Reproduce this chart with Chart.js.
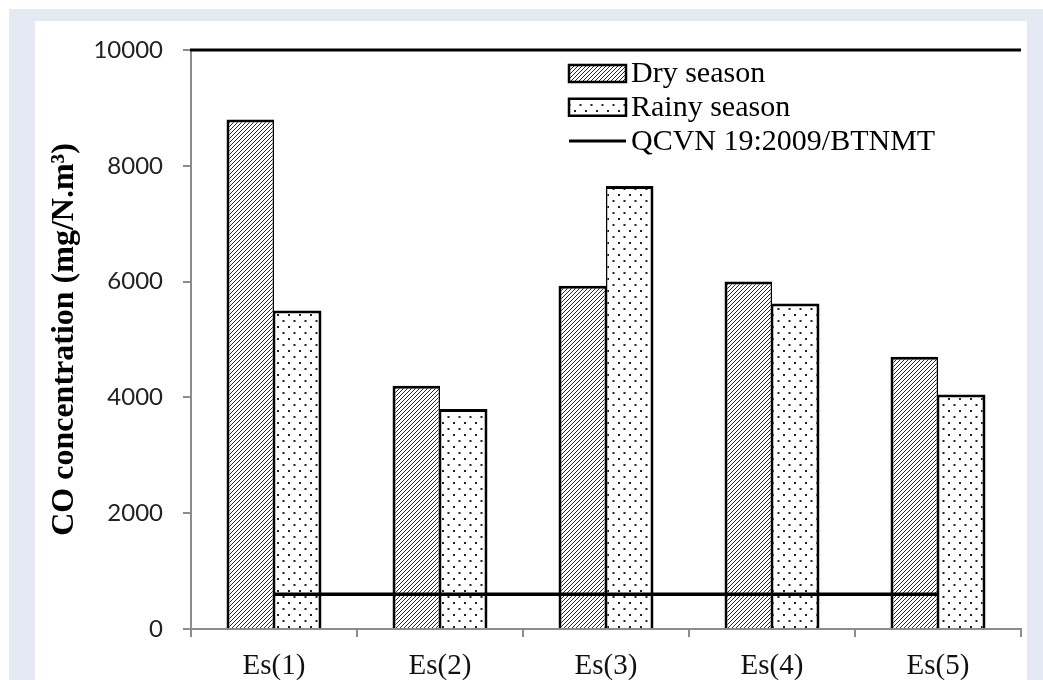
<!DOCTYPE html>
<html>
<head>
<meta charset="utf-8">
<title>CO concentration</title>
<script src="https://cdn.jsdelivr.net/npm/chart.js@4.4.1/dist/chart.umd.min.js"></script>
<style>
  html, body { margin: 0; padding: 0; background: #ffffff; }
  #frame { position: absolute; left: 9px; top: 9px; width: 1034px; height: 671px; background: #e4e9f4; }
  #panel { position: absolute; left: 35px; top: 21px; width: 992px; height: 659px; background: #ffffff; }
  #chart { position: absolute; left: 0; top: 0; }
</style>
</head>
<body>
<div id="frame"></div>
<div id="panel"></div>
<canvas id="chart" width="1043" height="680"></canvas>
<script>
// Sampling sites and measured CO concentrations (mg/N.m3)
const categories = ['Es(1)', 'Es(2)', 'Es(3)', 'Es(4)', 'Es(5)'];
const drySeason = [8800, 4200, 5930, 6000, 4700];
const rainySeason = [5500, 3800, 7650, 5620, 4050];
const qcvnLimit = [600, 600, 600, 600, 600];
const seriesNames = ['Dry season', 'Rainy season', 'QCVN 19:2009/BTNMT'];
const yTicks = [0, 2000, 4000, 6000, 8000, 10000];
const yTitle = 'CO concentration (mg/N.m\u00B3)';

// Fill patterns: diagonal hatch for the dry season, staggered dots for the rainy season
function hatchPattern(ctx) {
  const t = document.createElement('canvas');
  t.width = 4; t.height = 4;
  const c = t.getContext('2d');
  c.fillStyle = '#fff';
  c.fillRect(0, 0, 4, 4);
  c.strokeStyle = '#111';
  c.lineWidth = 0.9;
  c.beginPath();
  c.moveTo(-1, 5); c.lineTo(5, -1);
  c.moveTo(-1, 1); c.lineTo(1, -1);
  c.moveTo(3, 5); c.lineTo(5, 3);
  c.stroke();
  return ctx.createPattern(t, 'repeat');
}
function dotPattern(ctx) {
  const t = document.createElement('canvas');
  t.width = 11; t.height = 12;
  const c = t.getContext('2d');
  c.fillStyle = '#fff';
  c.fillRect(0, 0, 11, 12);
  c.fillStyle = '#222';
  c.fillRect(2, 2, 2, 2);
  c.fillRect(7.5, 8, 2, 2);
  return ctx.createPattern(t, 'repeat');
}

const canvas = document.getElementById('chart');
const ctx = canvas.getContext('2d');
const hatch = hatchPattern(ctx);
const dots = dotPattern(ctx);

// Legend drawn inside the plot area, upper middle
const seasonLegend = {
  id: 'seasonLegend',
  afterDraw(chart) {
    const c = chart.ctx, a = chart.chartArea;
    const x0 = a.left + 378, w = 57, step = 33.75, y0 = a.top + 23.5;
    c.save();
    c.font = '30px "Liberation Serif"';
    c.textBaseline = 'middle';
    c.fillStyle = '#000';
    chart.data.datasets.forEach((ds, i) => {
      const cy = y0 + i * step;
      if (ds.type === 'line') {
        c.strokeStyle = '#000';
        c.lineWidth = 3;
        c.beginPath();
        c.moveTo(x0, cy); c.lineTo(x0 + w, cy);
        c.stroke();
      } else {
        c.fillStyle = ds.backgroundColor;
        c.fillRect(x0, cy - 8.5, w, 17);
        c.strokeStyle = '#000';
        c.lineWidth = 2.5;
        c.strokeRect(x0, cy - 8.5, w, 17);
        c.fillStyle = '#000';
      }
      c.fillText(ds.label, x0 + w + 5, cy + 1);
    });
    c.restore();
  }
};

// Black frame line along the top of the plot area
const topBorder = {
  id: 'topBorder',
  afterDraw(chart) {
    const c = chart.ctx, a = chart.chartArea;
    c.save();
    c.strokeStyle = '#000';
    c.lineWidth = 3;
    c.beginPath();
    c.moveTo(a.left - 1, a.top);
    c.lineTo(a.right, a.top);
    c.stroke();
    c.restore();
  }
};

new Chart(ctx, {
  type: 'bar',
  data: {
    labels: categories,
    datasets: [
      {
        label: seriesNames[0],
        data: drySeason,
        backgroundColor: hatch,
        borderColor: '#000',
        borderWidth: { top: 3, left: 3, right: 1.5, bottom: 0 },
        borderSkipped: 'start',
        order: 1
      },
      {
        label: seriesNames[1],
        data: rainySeason,
        backgroundColor: dots,
        borderColor: '#000',
        borderWidth: { top: 3, left: 1.5, right: 3, bottom: 0 },
        borderSkipped: 'start',
        order: 1
      },
      {
        type: 'line',
        label: seriesNames[2],
        data: qcvnLimit,
        borderColor: '#000',
        borderWidth: 3.5,
        pointRadius: 0,
        fill: false,
        order: 0
      }
    ]
  },
  options: {
    responsive: false,
    animation: false,
    devicePixelRatio: 1,
    layout: { padding: { left: 35, right: 22, top: 50, bottom: 0 } },
    datasets: { bar: { categoryPercentage: 0.572, barPercentage: 1.0 } },
    plugins: { legend: { display: false }, tooltip: { enabled: false } },
    scales: {
      x: {
        grid: { display: true, drawOnChartArea: false, drawTicks: true, tickLength: 8, color: '#8c8c8c', lineWidth: 2, offset: true },
        border: { display: true, color: '#8c8c8c', width: 2 },
        ticks: { color: '#111', font: { family: 'Liberation Serif', size: 29 }, padding: 12, maxRotation: 0 },
        afterFit(s) { s.height = 51; }
      },
      y: {
        min: 0, max: 10000,
        afterBuildTicks(s) { s.ticks = yTicks.map(v => ({ value: v })); },
        grid: { display: true, drawOnChartArea: false, drawTicks: true, tickLength: 8, color: '#8c8c8c', lineWidth: 2 },
        border: { display: true, color: '#8c8c8c', width: 2 },
        ticks: { color: '#222', font: { family: 'Lato', size: 24 }, padding: 20, callback: v => String(v) },
        title: { display: true, text: yTitle, color: '#000', font: { family: 'Liberation Serif', size: 32, weight: 'bold' }, padding: { top: 11, bottom: 0 } },
        afterFit(s) { s.width = 156; }
      }
    }
  },
  plugins: [seasonLegend, topBorder]
});
</script>
</body>
</html>
